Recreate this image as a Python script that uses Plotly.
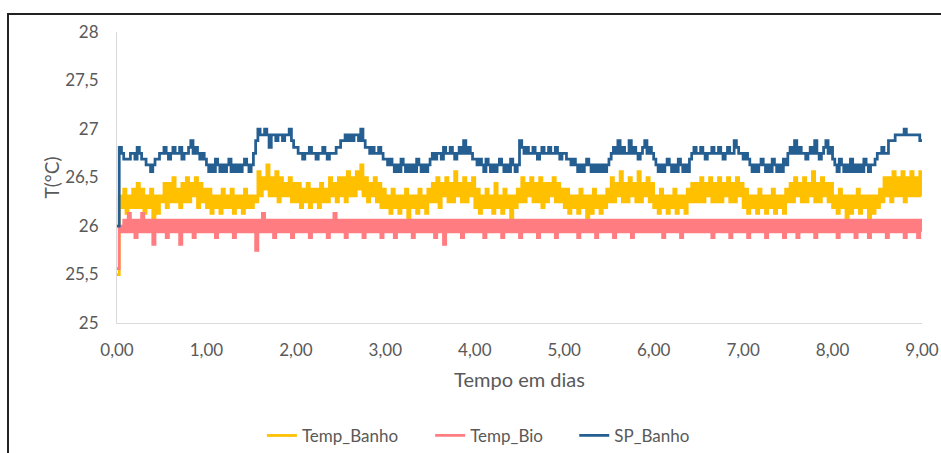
import numpy as np
import plotly.graph_objects as go

series_names = ["Temp_Banho", "Temp_Bio", "SP_Banho"]
series_colors = ["#FFC000", "#FF7C80", "#255E91"]

# Samples every 0.025 day (one row = 0.5 day)
temp_banho = [
    25.5, 26.31, 26.19, 26.38, 26.13, 26.31, 26.19, 26.38, 26.19, 26.44, 26.19, 26.38, 26.13, 26.31, 26.19, 26.38, 26.06, 26.31, 26.13, 26.31,
    26.25, 26.44, 26.19, 26.44, 26.25, 26.5, 26.25, 26.38, 26.19, 26.44, 26.25, 26.5, 26.25, 26.44, 26.31, 26.5, 26.19, 26.44, 26.25, 26.38,
    26.19, 26.38, 26.13, 26.31, 26.19, 26.31, 26.13, 26.38, 26.19, 26.31, 26.19, 26.38, 26.13, 26.31, 26.19, 26.31, 26.13, 26.38, 26.19, 26.31,
    26.19, 26.31, 26.25, 26.56, 26.31, 26.5, 26.38, 26.63, 26.31, 26.5, 26.31, 26.56, 26.25, 26.5, 26.31, 26.44, 26.31, 26.5, 26.25, 26.44,
    26.25, 26.44, 26.19, 26.38, 26.25, 26.44, 26.19, 26.38, 26.25, 26.38, 26.19, 26.44, 26.25, 26.38, 26.25, 26.5, 26.31, 26.44, 26.25, 26.5,
    26.31, 26.5, 26.25, 26.56, 26.31, 26.5, 26.31, 26.56, 26.38, 26.63, 26.31, 26.5, 26.25, 26.44, 26.31, 26.5, 26.25, 26.44, 26.19, 26.38,
    26.19, 26.31, 26.13, 26.38, 26.19, 26.31, 26.13, 26.31, 26.19, 26.38, 26.06, 26.31, 26.19, 26.31, 26.13, 26.38, 26.19, 26.31, 26.13, 26.38,
    26.25, 26.44, 26.25, 26.5, 26.19, 26.44, 26.31, 26.5, 26.25, 26.44, 26.25, 26.56, 26.31, 26.44, 26.25, 26.5, 26.25, 26.44, 26.31, 26.5,
    26.19, 26.38, 26.13, 26.31, 26.19, 26.38, 26.19, 26.31, 26.13, 26.44, 26.19, 26.31, 26.13, 26.38, 26.19, 26.31, 26.06, 26.31, 26.19, 26.38,
    26.25, 26.5, 26.25, 26.44, 26.31, 26.5, 26.25, 26.44, 26.25, 26.5, 26.19, 26.44, 26.25, 26.44, 26.31, 26.5, 26.25, 26.44, 26.25, 26.38,
    26.19, 26.38, 26.13, 26.31, 26.19, 26.31, 26.13, 26.38, 26.19, 26.31, 26.06, 26.31, 26.13, 26.38, 26.19, 26.31, 26.13, 26.31, 26.19, 26.38,
    26.25, 26.5, 26.25, 26.44, 26.31, 26.56, 26.25, 26.44, 26.25, 26.5, 26.31, 26.44, 26.25, 26.56, 26.25, 26.44, 26.31, 26.5, 26.25, 26.44,
    26.19, 26.31, 26.13, 26.38, 26.19, 26.31, 26.13, 26.31, 26.19, 26.38, 26.13, 26.31, 26.19, 26.31, 26.13, 26.38, 26.25, 26.44, 26.25, 26.44,
    26.25, 26.5, 26.25, 26.44, 26.31, 26.5, 26.25, 26.44, 26.25, 26.5, 26.25, 26.44, 26.31, 26.5, 26.25, 26.44, 26.25, 26.5, 26.31, 26.44,
    26.19, 26.38, 26.13, 26.31, 26.19, 26.31, 26.13, 26.38, 26.19, 26.31, 26.13, 26.31, 26.19, 26.38, 26.13, 26.31, 26.19, 26.31, 26.13, 26.38,
    26.25, 26.44, 26.25, 26.5, 26.31, 26.44, 26.25, 26.5, 26.25, 26.44, 26.31, 26.56, 26.25, 26.44, 26.25, 26.5, 26.31, 26.44, 26.25, 26.44,
    26.19, 26.31, 26.13, 26.38, 26.19, 26.31, 26.06, 26.31, 26.13, 26.31, 26.19, 26.38, 26.13, 26.31, 26.19, 26.31, 26.06, 26.31, 26.13, 26.31,
    26.19, 26.38, 26.25, 26.5, 26.31, 26.5, 26.25, 26.56, 26.31, 26.5, 26.31, 26.56, 26.25, 26.5, 26.31, 26.56, 26.31, 26.5, 26.31, 26.56,
    26.31,
]

temp_bio = [
    25.56, 26.0, 25.94, 26.06, 25.94, 26.13, 25.94, 26.06, 25.88, 26.06, 25.94, 26.13, 25.94, 26.06, 25.94, 26.06, 25.81, 26.06, 25.94, 26.06,
    25.94, 26.06, 25.88, 26.06, 25.94, 26.06, 25.94, 26.06, 25.81, 26.06, 25.94, 26.06, 25.94, 26.06, 25.88, 26.06, 25.94, 26.06, 25.94, 26.06,
    25.94, 26.06, 25.94, 26.06, 25.88, 26.06, 25.94, 26.06, 25.94, 26.06, 25.94, 26.06, 25.88, 26.06, 25.94, 26.06, 25.94, 26.06, 25.94, 26.06,
    25.94, 26.06, 25.75, 26.06, 25.94, 26.13, 25.94, 26.06, 25.94, 26.06, 25.88, 26.06, 25.94, 26.06, 25.94, 26.06, 25.94, 26.06, 25.88, 26.06,
    25.94, 26.06, 25.94, 26.06, 25.94, 26.06, 25.88, 26.06, 25.94, 26.06, 25.94, 26.06, 25.94, 26.06, 25.88, 26.06, 25.94, 26.13, 25.94, 26.06,
    25.94, 26.06, 25.88, 26.06, 25.94, 26.06, 25.94, 26.06, 25.94, 26.06, 25.88, 26.06, 25.94, 26.06, 25.94, 26.06, 25.94, 26.06, 25.88, 26.06,
    25.94, 26.06, 25.94, 26.06, 25.88, 26.06, 25.94, 26.06, 25.94, 26.06, 25.94, 26.06, 25.88, 26.06, 25.94, 26.06, 25.94, 26.06, 25.94, 26.06,
    25.94, 26.06, 25.88, 26.06, 25.94, 26.06, 25.81, 26.06, 25.94, 26.06, 25.94, 26.06, 25.94, 26.06, 25.88, 26.06, 25.94, 26.06, 25.94, 26.06,
    25.94, 26.06, 25.94, 26.06, 25.88, 26.06, 25.94, 26.06, 25.94, 26.06, 25.94, 26.06, 25.88, 26.06, 25.94, 26.06, 25.94, 26.06, 25.94, 26.06,
    25.88, 26.06, 25.94, 26.06, 25.94, 26.06, 25.94, 26.06, 25.88, 26.06, 25.94, 26.06, 25.94, 26.06, 25.94, 26.06, 25.88, 26.06, 25.94, 26.06,
    25.94, 26.06, 25.94, 26.06, 25.94, 26.06, 25.88, 26.06, 25.94, 26.06, 25.94, 26.06, 25.94, 26.06, 25.88, 26.06, 25.94, 26.06, 25.94, 26.06,
    25.94, 26.06, 25.88, 26.06, 25.94, 26.06, 25.94, 26.06, 25.94, 26.06, 25.88, 26.06, 25.94, 26.06, 25.94, 26.06, 25.94, 26.06, 25.94, 26.06,
    25.94, 26.06, 25.94, 26.06, 25.88, 26.06, 25.94, 26.06, 25.94, 26.06, 25.94, 26.06, 25.88, 26.06, 25.94, 26.06, 25.94, 26.06, 25.94, 26.06,
    25.94, 26.06, 25.94, 26.06, 25.94, 26.06, 25.88, 26.06, 25.94, 26.06, 25.94, 26.06, 25.94, 26.06, 25.88, 26.06, 25.94, 26.06, 25.94, 26.06,
    25.94, 26.06, 25.88, 26.06, 25.94, 26.06, 25.94, 26.06, 25.94, 26.06, 25.88, 26.06, 25.94, 26.06, 25.94, 26.06, 25.94, 26.06, 25.88, 26.06,
    25.94, 26.06, 25.94, 26.06, 25.88, 26.06, 25.94, 26.06, 25.94, 26.06, 25.94, 26.06, 25.88, 26.06, 25.94, 26.06, 25.94, 26.06, 25.94, 26.06,
    25.94, 26.06, 25.88, 26.06, 25.94, 26.06, 25.94, 26.06, 25.94, 26.06, 25.88, 26.06, 25.94, 26.06, 25.94, 26.06, 25.88, 26.06, 25.94, 26.06,
    25.94, 26.06, 25.94, 26.06, 25.88, 26.06, 25.94, 26.06, 25.94, 26.06, 25.94, 26.06, 25.88, 26.06, 25.94, 26.06, 25.94, 26.06, 25.88, 26.06,
    25.94,
]

sp_banho = [
    26.0, 26.81, 26.75, 26.69, 26.69, 26.69, 26.75, 26.75, 26.69, 26.81, 26.75, 26.69, 26.69, 26.63, 26.63, 26.56, 26.63, 26.69, 26.69, 26.75,
    26.75, 26.81, 26.75, 26.69, 26.75, 26.81, 26.75, 26.75, 26.81, 26.69, 26.75, 26.75, 26.81, 26.88, 26.75, 26.81, 26.75, 26.69, 26.75, 26.69,
    26.63, 26.56, 26.63, 26.56, 26.69, 26.63, 26.56, 26.63, 26.56, 26.63, 26.69, 26.56, 26.63, 26.56, 26.63, 26.56, 26.63, 26.69, 26.63, 26.56,
    26.63, 26.75, 26.88, 27.0, 26.94, 26.94, 27.0, 26.94, 26.81, 26.94, 26.94, 26.88, 26.94, 26.94, 26.88, 26.94, 26.94, 27.0, 26.88, 26.81,
    26.81, 26.75, 26.75, 26.69, 26.75, 26.75, 26.81, 26.75, 26.75, 26.69, 26.75, 26.75, 26.81, 26.75, 26.69, 26.75, 26.75, 26.75, 26.81, 26.81,
    26.88, 26.88, 26.94, 26.88, 26.94, 26.88, 26.94, 26.94, 26.88, 27.0, 26.88, 26.81, 26.81, 26.75, 26.81, 26.75, 26.75, 26.81, 26.75, 26.69,
    26.69, 26.63, 26.69, 26.63, 26.56, 26.63, 26.56, 26.69, 26.63, 26.56, 26.63, 26.56, 26.63, 26.56, 26.69, 26.63, 26.56, 26.63, 26.56, 26.63,
    26.69, 26.75, 26.69, 26.75, 26.75, 26.69, 26.81, 26.75, 26.75, 26.81, 26.75, 26.69, 26.75, 26.81, 26.75, 26.88, 26.75, 26.81, 26.75, 26.69,
    26.69, 26.63, 26.69, 26.63, 26.56, 26.69, 26.63, 26.56, 26.63, 26.56, 26.63, 26.69, 26.63, 26.56, 26.63, 26.56, 26.69, 26.63, 26.56, 26.63,
    26.88, 26.81, 26.75, 26.81, 26.75, 26.75, 26.81, 26.75, 26.69, 26.75, 26.81, 26.75, 26.75, 26.81, 26.75, 26.75, 26.81, 26.75, 26.69, 26.75,
    26.75, 26.69, 26.69, 26.63, 26.69, 26.63, 26.56, 26.63, 26.56, 26.63, 26.69, 26.63, 26.56, 26.63, 26.56, 26.63, 26.56, 26.63, 26.56, 26.63,
    26.69, 26.75, 26.81, 26.75, 26.88, 26.75, 26.81, 26.75, 26.75, 26.88, 26.75, 26.81, 26.75, 26.69, 26.75, 26.81, 26.88, 26.75, 26.81, 26.75,
    26.69, 26.63, 26.56, 26.63, 26.56, 26.63, 26.69, 26.63, 26.56, 26.63, 26.56, 26.69, 26.63, 26.56, 26.63, 26.56, 26.69, 26.75, 26.81, 26.75,
    26.75, 26.81, 26.75, 26.69, 26.75, 26.75, 26.81, 26.75, 26.75, 26.81, 26.75, 26.69, 26.75, 26.81, 26.75, 26.75, 26.88, 26.81, 26.75, 26.75,
    26.69, 26.75, 26.69, 26.63, 26.56, 26.63, 26.56, 26.63, 26.69, 26.63, 26.56, 26.63, 26.56, 26.69, 26.63, 26.56, 26.63, 26.56, 26.69, 26.63,
    26.75, 26.81, 26.75, 26.88, 26.75, 26.81, 26.75, 26.75, 26.69, 26.75, 26.81, 26.75, 26.88, 26.75, 26.69, 26.75, 26.81, 26.88, 26.75, 26.81,
    26.69, 26.63, 26.56, 26.69, 26.63, 26.56, 26.63, 26.56, 26.69, 26.56, 26.63, 26.56, 26.63, 26.56, 26.69, 26.63, 26.56, 26.63, 26.63, 26.69,
    26.75, 26.75, 26.81, 26.75, 26.75, 26.88, 26.88, 26.88, 26.94, 26.94, 26.94, 26.94, 27.0, 26.94, 26.94, 26.94, 26.94, 26.94, 26.94, 26.88,
    26.88,
]

x_ticks = [0, 1, 2, 3, 4, 5, 6, 7, 8, 9]
y_ticks = [25, 25.5, 26, 26.5, 27, 27.5, 28]

FONT = "Lato"
GREY = "#595959"

legend_ids = ["legend", "legend2", "legend3"]
legend_x = [0.180, 0.389, 0.568]
LEG_Y = -0.388

fig = go.Figure()
for name, color, vals, lid in zip(series_names, series_colors,
                                   [temp_banho, temp_bio, sp_banho], legend_ids):
    days = np.linspace(0, 9, len(vals))
    fig.add_trace(go.Scatter(x=days, y=vals, mode="lines", name=name, legend=lid,
                             line=dict(color=color, width=2.75, shape="hv", simplify=False)))

legend_style = dict(orientation="h", xanchor="left", y=LEG_Y, yanchor="middle",
                    font=dict(size=17, color=GREY, family=FONT), bgcolor="rgba(0,0,0,0)")

fig.update_layout(
    width=941, height=453,
    margin=dict(l=117, r=19, t=32, b=130, autoexpand=False),
    paper_bgcolor="white", plot_bgcolor="white",
    separators=",.",
    font=dict(family=FONT, color=GREY, size=17),
    showlegend=True,
    legend=dict(x=legend_x[0], **legend_style),
    legend2=dict(x=legend_x[1], **legend_style),
    legend3=dict(x=legend_x[2], **legend_style),
    xaxis=dict(range=[0, 9], tickvals=x_ticks, tickformat=".2f", showgrid=False,
               zeroline=False, showline=True, linecolor="#D9D9D9", linewidth=1,
               ticks="outside", ticklen=12, tickcolor="rgba(0,0,0,0)", automargin=False,
               tickfont=dict(size=17, color=GREY),
               title=dict(text="Tempo em dias", font=dict(size=20, color=GREY), standoff=13)),
    yaxis=dict(range=[25, 28], tickvals=y_ticks, showgrid=False, zeroline=False,
               showline=True, linecolor="#D9D9D9", linewidth=1,
               ticks="outside", ticklen=14, tickcolor="rgba(0,0,0,0)", automargin=False,
               tickfont=dict(size=17, color=GREY),
               title=dict(text="T(°C)", font=dict(size=19, color=GREY), standoff=0)),
    shapes=[dict(type="rect", xref="paper", yref="paper",
                 x0=(8 - 117) / 805, x1=(960 - 117) / 805,
                 y0=-0.5, y1=1.062,
                 line=dict(color="#222222", width=2), layer="below")],
)

fig.write_html("out.html", config={"displayModeBar": False},
               post_script="document.body.style.margin='0';document.body.style.overflow='hidden';")
